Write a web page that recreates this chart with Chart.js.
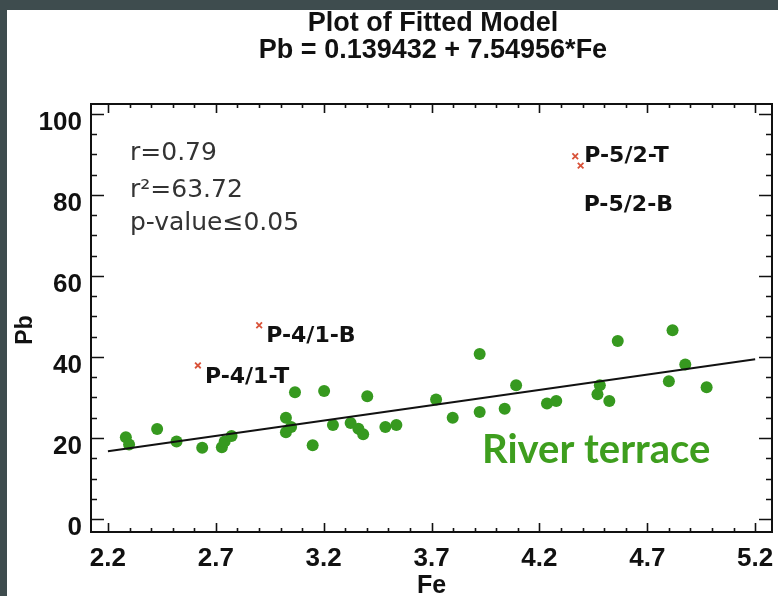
<!DOCTYPE html>
<html>
<head>
<meta charset="utf-8">
<title>Plot of Fitted Model</title>
<script src="https://cdn.jsdelivr.net/npm/chart.js@4.4.1/dist/chart.umd.min.js"></script>
<style>
  html, body { margin: 0; padding: 0; background: #fff; }
  canvas { display: block; }
</style>
</head>
<body>
<canvas id="fitChart" width="778" height="596"></canvas>
<script>
// river terrace samples (green dots)
var feValues = [2.283, 2.298, 2.428, 2.518, 2.637, 2.728, 2.741, 2.773, 3.025, 3.025,
  3.049, 3.067, 3.149, 3.202, 3.243, 3.325, 3.361, 3.383, 3.402, 3.486,
  3.537, 3.721, 3.798, 3.923, 3.923, 4.039, 4.092, 4.235, 4.278, 4.469,
  4.480, 4.524, 4.563, 4.800, 4.817, 4.876, 4.975];
var pbValues = [20.2, 18.4, 22.2, 19.1, 17.6, 17.7, 19.1, 20.5, 25.0, 21.4,
  22.7, 31.3, 18.2, 31.6, 23.2, 23.7, 22.3, 20.9, 30.3, 22.7,
  23.2, 29.5, 25.0, 40.7, 26.4, 27.2, 33.0, 28.5, 29.1, 30.8,
  33.0, 29.1, 43.9, 34.0, 46.6, 38.1, 32.5];

// outlier samples (red crosses)
var outlierNames = ["P-4/1-T", "P-4/1-B", "P-5/2-T", "P-5/2-B"];
var outlierFe = [2.617, 2.901, 4.366, 4.391];
var outlierPb = [37.9, 47.8, 89.5, 87.2];

// fitted line ends
var fitFe = [2.2, 5.2];
var fitPb = [16.75, 39.40];

var xTicks = [2.2, 2.7, 3.2, 3.7, 4.2, 4.7, 5.2];
var yTicks = [0, 20, 40, 60, 80, 100];
var statLines = ["r=0.79", "r\u00b2=63.72", "p-value\u22640.05"];

// pixel offsets of the outlier labels from their cross
var labelOffsets = [[7, 18], [7, 17], [9, 6], [3, 45]];

var sans = "'Liberation Sans', Arial, sans-serif";

var framePlugin = {
  id: "frame",
  beforeDraw: function (chart) {
    var c = chart.ctx;
    c.save();
    c.fillStyle = "#fff";
    c.fillRect(0, 0, chart.width, chart.height);
    c.fillStyle = "#3e4c4e";
    c.fillRect(0, 0, chart.width, 10);
    c.fillRect(0, 0, 7, chart.height);
    c.restore();
  },
  afterDraw: function (chart) {
    var c = chart.ctx, a = chart.chartArea;
    var xs = chart.scales.x, ys = chart.scales.y;
    c.save();
    c.strokeStyle = "#111";
    c.lineWidth = 2;
    c.strokeRect(a.left, a.top, a.right - a.left, a.bottom - a.top);

    // ticks point inwards on all four sides
    c.lineWidth = 1.6;
    c.beginPath();
    for (var i = 0; i <= 30; i++) {
      var px = Math.round(xs.getPixelForValue(2.2 + i * 0.1)) + 0.5;
      var len = i % 5 === 0 ? 9 : 4;
      c.moveTo(px, a.bottom); c.lineTo(px, a.bottom - len);
      c.moveTo(px, a.top); c.lineTo(px, a.top + len);
    }
    for (var j = 0; j <= 20; j++) {
      var py = Math.round(ys.getPixelForValue(j * 5)) + 0.5;
      var len2 = j % 4 === 0 ? 13 : 6;
      c.moveTo(a.left, py); c.lineTo(a.left + len2, py);
      c.moveTo(a.right, py); c.lineTo(a.right - len2, py);
    }
    c.stroke();

    // tick labels
    c.fillStyle = "#111";
    c.font = "bold 26px " + sans;
    c.textAlign = "center";
    c.textBaseline = "alphabetic";
    xTicks.forEach(function (v) {
      c.fillText(v.toFixed(1), xs.getPixelForValue(v), 566);
    });
    c.textAlign = "right";
    yTicks.forEach(function (v) {
      c.fillText(String(v), a.left - 9, ys.getPixelForValue(v) + 16);
    });

    // axis titles
    c.font = "bold 25px " + sans;
    c.textAlign = "center";
    c.fillText("Fe", (a.left + a.right) / 2, 593);
    c.save();
    c.translate(32, 330);
    c.rotate(-Math.PI / 2);
    c.font = "bold 23px " + sans;
    c.fillText("Pb", 0, 0);
    c.restore();

    // stats block
    c.textAlign = "left";
    c.fillStyle = "#333";
    c.font = "25px 'DejaVu Sans', sans-serif";
    var base = [160, 197, 230];
    statLines.forEach(function (t, k) {
      c.fillText(t, 130, base[k]);
    });

    // outlier labels
    c.fillStyle = "#111";
    c.font = "bold 22px 'DejaVu Sans', sans-serif";
    outlierNames.forEach(function (name, k) {
      var ox = xs.getPixelForValue(outlierFe[k]);
      var oy = ys.getPixelForValue(outlierPb[k]);
      c.fillText(name, ox + labelOffsets[k][0], oy + labelOffsets[k][1]);
    });

    // group label
    c.fillStyle = "#3e9e1e";
    c.font = "bold 40px Lato, 'Open Sans', sans-serif";
    c.fillText("River terrace", 482, 463);
    c.restore();
  }
};

var points = feValues.map(function (v, i) { return { x: v, y: pbValues[i] }; });
var outliers = outlierFe.map(function (v, i) { return { x: v, y: outlierPb[i] }; });
var fitLine = fitFe.map(function (v, i) { return { x: v, y: fitPb[i] }; });

var ctx = document.getElementById("fitChart").getContext("2d");
var fitChart = new Chart(ctx, {
  type: "scatter",
  data: {
    datasets: [
      {
        label: "Fit",
        data: fitLine,
        showLine: true,
        borderColor: "#111",
        borderWidth: 2,
        pointRadius: 0,
        fill: false
      },
      {
        label: "Outliers",
        data: outliers,
        pointStyle: "crossRot",
        pointRadius: 4,
        borderColor: "#d9533a",
        borderWidth: 1.8
      },
      {
        label: "River terrace",
        data: points,
        pointRadius: 6,
        backgroundColor: "#36991f",
        borderColor: "#36991f",
        borderWidth: 0
      }
    ]
  },
  options: {
    responsive: false,
    animation: false,
    layout: { padding: { left: 91, right: 3, top: 10, bottom: 64 } },
    plugins: {
      legend: { display: false },
      tooltip: { enabled: false },
      title: {
        display: true,
        text: ["Plot of Fitted Model", "Pb = 0.139432 + 7.54956*Fe"],
        color: "#111",
        font: { family: sans, size: 27, weight: "bold", lineHeight: 1.0 },
        padding: { top: 0, bottom: 40 }
      }
    },
    scales: {
      x: { type: "linear", min: 2.1215, max: 5.278, display: false },
      y: { type: "linear", min: -3.2, max: 102.4, display: false }
    }
  },
  plugins: [framePlugin]
});
</script>
</body>
</html>
